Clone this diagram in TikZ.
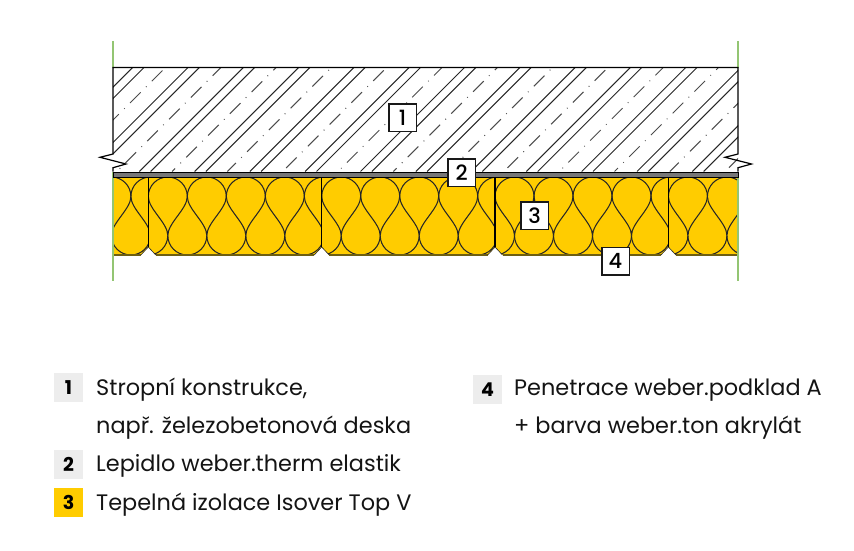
\documentclass[tikz,border=0pt]{standalone}
\usepackage{fontspec}
\setmainfont{Poppins}
\newfontfamily\numfont{Poppins Medium}
\definecolor{wool}{HTML}{FFCC00}
\definecolor{wooledge}{HTML}{6E5F12}
\definecolor{band}{HTML}{777777}
\definecolor{keygrey}{HTML}{EDEDED}
\definecolor{edgegreen}{HTML}{93C573}
\tikzset{
	tag/.style={draw=black!90, line width=1.5pt, fill=white, minimum size=27.5pt, inner sep=0pt, font=\numfont\fontsize{21}{21}\selectfont},
	key/.style={minimum size=29pt, inner sep=0pt, font=\bfseries\fontsize{19}{19}\selectfont},
	legend/.style={anchor=base west, inner sep=0pt, font=\fontsize{22.4}{22.4}\selectfont, text=black!92},
	hatch/.style={line width=1pt, black!85},
	fibre/.style={line width=1.05pt, black!85},
}

\begin{document}
\begin{tikzpicture}[x=1pt, y=-1pt]
	\useasboundingbox (0,0) rectangle (854,551);

	\draw[edgegreen, line width=1.1pt] (113,41) -- (113,68);
	\draw[edgegreen, line width=1.1pt] (738,41) -- (738,68);

	\begin{scope}
		\clip (113,67.5) rectangle (738,171.5);
		\foreach \k in {0,...,13} {
			\pgfmathsetmacro{\sa}{132.7+55.3*\k}
			\pgfmathsetmacro{\sb}{144+55.3*\k}
			\draw[hatch] (\sa,67.5) -- ++(-104,104);
			\draw[hatch] (\sb,67.5) -- ++(-104,104);
		}
		\foreach \k in {0,...,12} {
			\pgfmathsetmacro{\sc}{165.5+55.3*\k}
			\pgfmathsetmacro{\ph}{22.5-1.414*(19-5.5*\k)+30.8}
			\draw[hatch, black!70, dash pattern=on 15pt off 7.5pt on .8pt off 7.5pt, dash phase=\ph pt] (\sc,67.5) -- ++(-104,104);
		}
	\end{scope}

	\begin{scope}
		\clip (113,177) rectangle (738,262);
		\foreach \xa in {-25.1,148.3,321.7,495,668.4} {
			\pgfmathsetmacro{\xb}{\xa+173.4}
			\fill[wool] (\xa,177) -- (\xb,177) -- (\xb,247) -- (\xb-7.5,255) -- (\xa+7.5,255) -- (\xa,247) -- cycle;
			\begin{scope}
				\clip (\xa,177) -- (\xb,177) -- (\xb,247) -- (\xb-7.5,255) -- (\xa+7.5,255) -- (\xa,247) -- cycle;
				\foreach \k in {-1,...,4} {
					\pgfmathsetmacro{\xc}{\xa+19.5+39*\k}
					\draw[fibre] (\xc,235.5) .. controls (\xc,223) and (\xc-19.5,209) .. (\xc-19.5,196.5) arc[start angle=180, end angle=360, radius=19.5] .. controls (\xc+19.5,209) and (\xc,223) .. (\xc,235.5);
				}
				\foreach \k in {0,...,5} {
					\pgfmathsetmacro{\xc}{\xa+39*\k}
					\draw[fibre] (\xc-19.5,235.5) arc[start angle=180, end angle=0, radius=19.5];
				}
			\end{scope}
			\draw[wooledge, line width=1.3pt] (\xb-7.5,255) -- (\xa+7.5,255);
			\draw[black!85, line width=.6pt] (\xb,247) -- (\xb-7.5,255);
			\draw[black!85, line width=.6pt] (\xa,247) -- (\xa+7.5,255);
			\draw[black, line width=1.1pt] (\xa,177) -- (\xa,247);
		}
	\end{scope}

	\draw[edgegreen, line width=1.1pt] (113,172) -- (113,281);
	\draw[edgegreen, line width=1.1pt] (738,172) -- (738,281);

	\draw[black, line width=1pt, fill=band] (113,172) rectangle (738,177);
	\draw[black, line width=1.2pt] (113,171.5) -- (113,167.7) -- (126,164) -- (100,157.3) -- (113,154) -- (113,67.5) -- (738,67.5) -- (738,154) -- (725,157.3) -- (751.5,164) -- (738,167.7) -- (738,171.5);

	\node[tag] (tag1) at (402.5,117.5) {1};
	\node[tag] (tag2) at (461.7,172.7) {2};
	\node[tag] (tag3) at (534.5,215.5) {3};
	\node[tag] (tag4) at (615.5,261) {4};

	\node[key, fill=keygrey] (key1) at (68.5,387.5) {1};
	\node[key, fill=keygrey] (key2) at (68.5,464.5) {2};
	\node[key, fill=wool] (key3) at (68.5,502.5) {3};
	\node[key, fill=keygrey] (key4) at (487.5,389.5) {4};

	\node[legend] (text1a) at (96,395.5) {Stropní konstrukce,};
	\node[legend] (text1b) at (96,433) {např. železobetonová deska};
	\node[legend] (text2) at (96,471) {Lepidlo weber.therm elastik};
	\node[legend] (text3) at (96,510) {Tepelná izolace Isover Top V};
	\node[legend] (text4a) at (514,395.5) {Penetrace weber.podklad A};
	\node[legend] (text4b) at (514,433) {+ barva weber.ton akrylát};
\end{tikzpicture}
\end{document}
